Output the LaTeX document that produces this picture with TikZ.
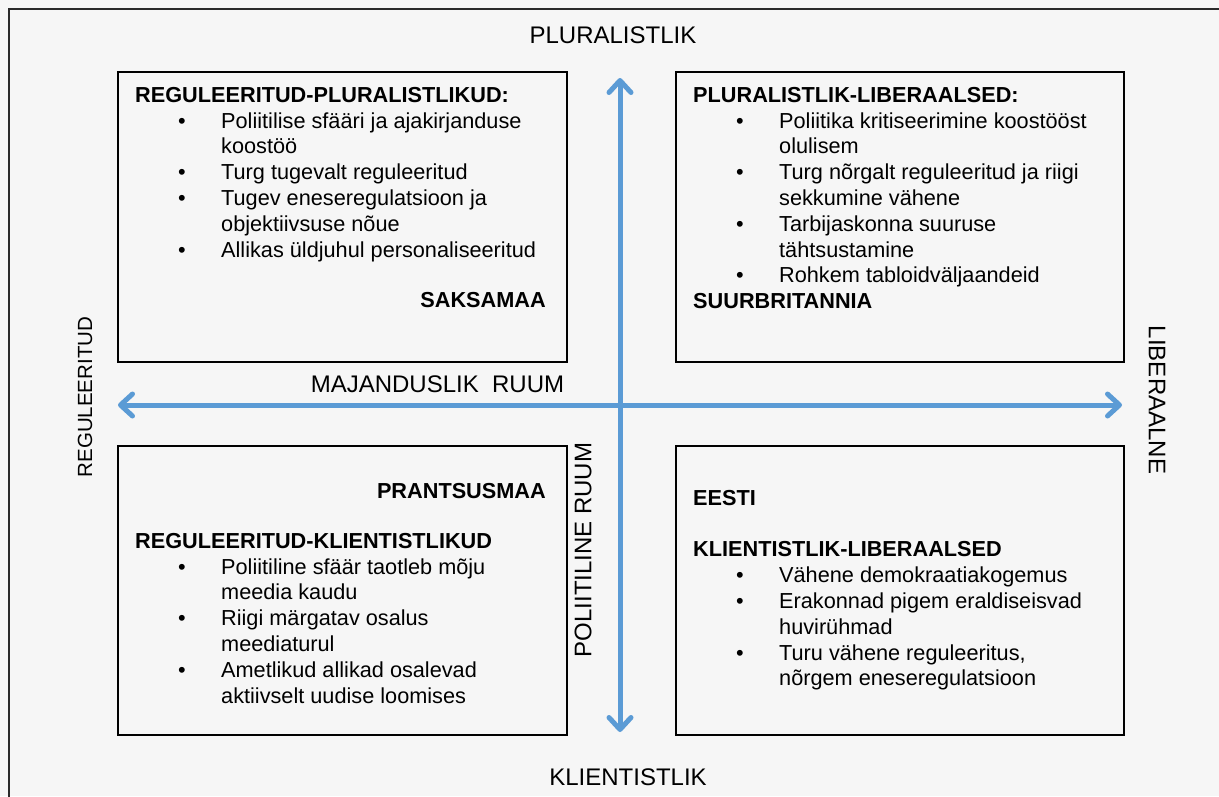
\documentclass[tikz,border=0pt]{standalone}
\usepackage{fontspec}
\setmainfont{Liberation Sans}
\usetikzlibrary{arrows.meta}
\definecolor{pagebg}{HTML}{F6F6F6}
\definecolor{framegray}{HTML}{2A2A2A}
\definecolor{axisblue}{HTML}{5B9BD5}
% one bulleted line, and the indented continuation of a bullet
\newcommand\bulletrow[1]{\makebox[86pt][l]{\hspace{43pt}\textbullet}#1}
\newcommand\controw[1]{\hspace*{86pt}#1}
\begin{document}
\begin{tikzpicture}[x=1pt,y=-1pt,
  quadbox/.style={draw=black, line width=1.6pt},
  body/.style={font=\fontsize{21.7}{25.8}\selectfont, inner sep=0pt, align=left, anchor=north west},
  country/.style={font=\fontsize{21.7}{25.8}\selectfont\bfseries, inner sep=0pt, anchor=base east},
  axislabel/.style={font=\fontsize{24}{28}\selectfont, inner sep=0pt},
  axisarrow/.style={draw=axisblue, line width=5pt,
    {Straight Barb[length=12pt,width=22pt,round]}-{Straight Barb[length=12pt,width=22pt,round]}}
]
% page and outer frame
\fill[pagebg] (0,0) rectangle (1219,796);
\useasboundingbox (0,0) rectangle (1219,796);
\draw[framegray, line width=2pt] (1225,9) -- (9,9) -- (9,805);

% the four quadrants
\node[quadbox, anchor=north west, minimum width=449pt, minimum height=290pt, inner sep=0pt] (tl) at (117,71) {};
\node[quadbox, anchor=north west, minimum width=448pt, minimum height=290pt, inner sep=0pt] (tr) at (675,71) {};
\node[quadbox, anchor=north west, minimum width=449pt, minimum height=289pt, inner sep=0pt] (bl) at (117,445) {};
\node[quadbox, anchor=north west, minimum width=448pt, minimum height=289pt, inner sep=0pt] (br) at (675,445) {};

% axes
\coordinate (vtop) at (620,78);
\coordinate (vbot) at (620,732);
\coordinate (hleft) at (118,405);
\coordinate (hright) at (1122,405);
\draw[axisarrow] (vbot) -- (vtop);
\draw[axisarrow] (hleft) -- (hright);

% axis labels
\node[axislabel] (plural) at (613,35) {PLURALISTLIK};
\node[axislabel] (client) at (628,777) {KLIENTISTLIK};
\node[axislabel, font=\fontsize{20.5}{24}\selectfont, rotate=90] (regul) at (85,397) {REGULEERITUD};
\node[axislabel, rotate=-90] (liber) at (1157,400) {LIBERAALNE};
\node[axislabel] (econ) at (437.5,384) {MAJANDUSLIK\ \ RUUM};
\node[axislabel, rotate=90] (polit) at (583,550) {POLIITILINE RUUM};

% quadrant texts
\node[body] (tltext) at (135,83.94) {\strut\textbf{REGULEERITUD-PLURALISTLIKUD:}\\
  \bulletrow{Poliitilise sfääri ja ajakirjanduse}\\
  \controw{koostöö}\\
  \bulletrow{Turg tugevalt reguleeritud}\\
  \bulletrow{Tugev eneseregulatsioon ja}\\
  \controw{objektiivsuse nõue}\\
  \bulletrow{Allikas üldjuhul personaliseeritud}};
\node[country] (de) at (546,307) {SAKSAMAA};

\node[body] (trtext) at (693,83.94) {\strut\textbf{PLURALISTLIK-LIBERAALSED:}\\
  \bulletrow{Poliitika kritiseerimine koostööst}\\
  \controw{olulisem}\\
  \bulletrow{Turg nõrgalt reguleeritud ja riigi}\\
  \controw{sekkumine vähene}\\
  \bulletrow{Tarbijaskonna suuruse}\\
  \controw{tähtsustamine}\\
  \bulletrow{Rohkem tabloidväljaandeid}\\
  \textbf{SUURBRITANNIA}};

\node[country] (fr) at (546,498) {PRANTSUSMAA};
\node[body] (bltext) at (135,529.94) {\strut\textbf{REGULEERITUD-KLIENTISTLIKUD}\\
  \bulletrow{Poliitiline sfäär taotleb mõju}\\
  \controw{meedia kaudu}\\
  \bulletrow{Riigi märgatav osalus}\\
  \controw{meediaturul}\\
  \bulletrow{Ametlikud allikad osalevad}\\
  \controw{aktiivselt uudise loomises}};

\node[body] (brtext) at (693,486.94) {\strut\textbf{EESTI}\\
  \strut\\
  \textbf{KLIENTISTLIK-LIBERAALSED}\\
  \bulletrow{Vähene demokraatiakogemus}\\
  \bulletrow{Erakonnad pigem eraldiseisvad}\\
  \controw{huvirühmad}\\
  \bulletrow{Turu vähene reguleeritus,}\\
  \controw{nõrgem eneseregulatsioon}};
\end{tikzpicture}
\end{document}
